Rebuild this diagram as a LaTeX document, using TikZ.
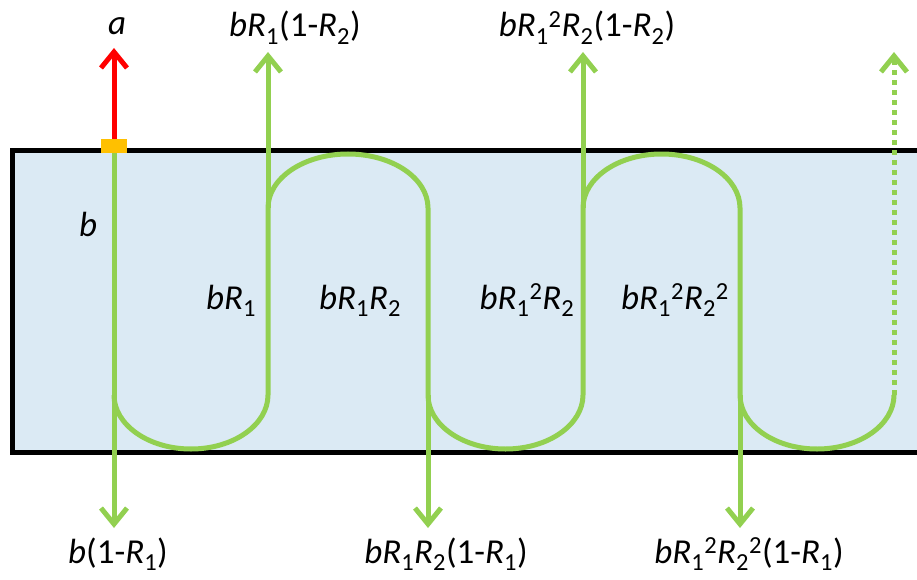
\documentclass[tikz,border=0pt]{standalone}
\usepackage{fontspec}
\setmainfont{Carlito}
\usetikzlibrary{arrows.meta}
\definecolor{lgreen}{RGB}{146,208,80}
\definecolor{pale}{RGB}{219,234,244}
\definecolor{orng}{RGB}{255,192,0}
\newcommand{\Ri}[1]{\textit{R}\textsubscript{#1}}
\newcommand{\bb}{\textit{b}}
\begin{document}
\begin{tikzpicture}[x=1pt,y=-1pt,
  lbl/.style={font=\fontsize{35}{42}\selectfont, inner sep=0pt, anchor=base},
  ray/.style={draw=lgreen, line width=5pt},
  tip/.style={-{Straight Barb[length=16pt,width=26pt]}},
  border/.style={draw=black, line width=5pt}]
\useasboundingbox (0,0) rectangle (917,580);
% slab
\fill[pale] (12,151) rectangle (917,452);
\draw[border] (917,151) -- (12,151) -- (12,452) -- (917,452);
% key points
\coordinate (s1) at (114,395);
\coordinate (m1) at (191,449);
\coordinate (e1) at (268,395);
\coordinate (a1s) at (268,208);
\coordinate (t1) at (348,154);
\coordinate (a1e) at (428,208);
\coordinate (s2) at (428,395);
\coordinate (m2) at (505.5,449);
\coordinate (e2) at (583,395);
\coordinate (a2s) at (583,208);
\coordinate (t2) at (661.5,154);
\coordinate (a2e) at (740,208);
\coordinate (s3) at (740,395);
\coordinate (m3) at (817,449);
\coordinate (e3) at (894,395);
% arrow tips
\coordinate (up1) at (268,52);
\coordinate (up2) at (583,52);
\coordinate (up3) at (894,52);
\coordinate (dn1) at (114,528);
\coordinate (dn2) at (428,528);
\coordinate (dn3) at (740,528);
\coordinate (redtip) at (114,48);
% zig-zag ray
\draw[ray, line join=round]
  (s1) .. controls +(0,29.8) and +(-42.5,0) .. (m1)
       .. controls +(42.5,0) and +(0,29.8) .. (e1) -- (a1s)
       .. controls +(0,-29.8) and +(-44.2,0) .. (t1)
       .. controls +(44.2,0) and +(0,-29.8) .. (a1e) -- (s2)
       .. controls +(0,29.8) and +(-42.8,0) .. (m2)
       .. controls +(42.8,0) and +(0,29.8) .. (e2) -- (a2s)
       .. controls +(0,-29.8) and +(-43.4,0) .. (t2)
       .. controls +(43.4,0) and +(0,-29.8) .. (a2e) -- (s3)
       .. controls +(0,29.8) and +(-42.5,0) .. (m3)
       .. controls +(42.5,0) and +(0,29.8) .. (e3);
% entry point
\coordinate (sqc) at (114,146);
\coordinate (sqs) at (114,153);
% outgoing rays
\draw[ray, tip] (sqs) -- (dn1);
\draw[ray, tip] (a1s) -- (up1);
\draw[ray, tip] (s2) -- (dn2);
\draw[ray, tip] (a2s) -- (up2);
\draw[ray, tip] (s3) -- (dn3);
\draw[ray, tip, dash pattern=on 5pt off 5pt] (e3) -- (up3);
\node[fill=orng, minimum width=26pt, minimum height=14pt, inner sep=0pt] (sq) at (sqc) {};
\draw[draw=red, line width=5pt, tip] (sq.north) -- (redtip);
% labels
\node[lbl] (la) at (117,35) {\textit{a}};
\node[lbl] (l1) at (295,37) {\bb\Ri{1}(1-\Ri{2})};
\node[lbl] (l2) at (587,37) {\bb\Ri{1}\textsuperscript{2}\Ri{2}(1-\Ri{2})};
\node[lbl] (lb) at (88,236) {\bb};
\node[lbl] (i1) at (231,309) {\bb\Ri{1}};
\node[lbl] (i2) at (360,309) {\bb\Ri{1}\Ri{2}};
\node[lbl] (i3) at (527,309) {\bb\Ri{1}\textsuperscript{2}\Ri{2}};
\node[lbl] (i4) at (675,309) {\bb\Ri{1}\textsuperscript{2}\Ri{2}\textsuperscript{2}};
\node[lbl] (d1) at (118,563) {\bb(1-\Ri{1})};
\node[lbl] (d2) at (446,563) {\bb\Ri{1}\Ri{2}(1-\Ri{1})};
\node[lbl] (d3) at (749,563) {\bb\Ri{1}\textsuperscript{2}\Ri{2}\textsuperscript{2}(1-\Ri{1})};
\end{tikzpicture}
\end{document}
